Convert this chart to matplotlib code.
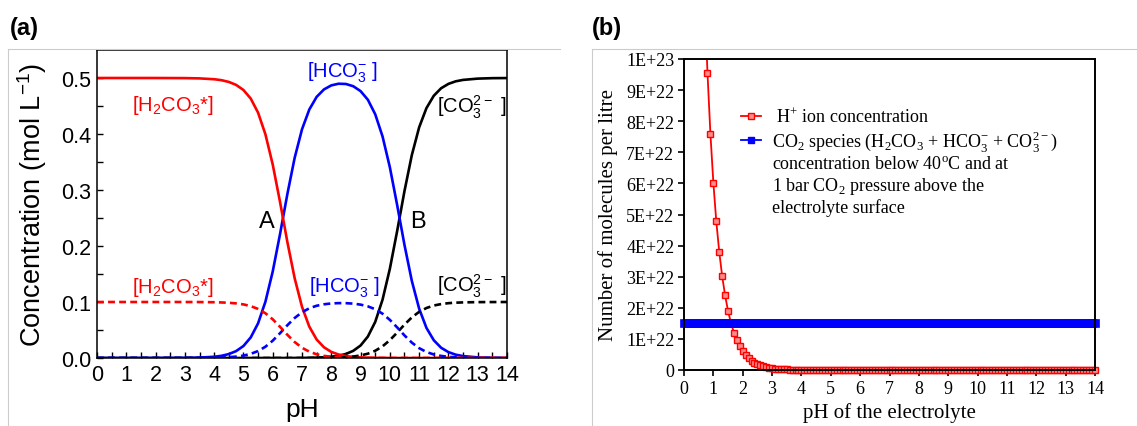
import numpy as np
import matplotlib
matplotlib.use("Agg")
import matplotlib.pyplot as plt
from matplotlib.lines import Line2D
from matplotlib.transforms import Bbox, TransformedBbox

# ---- panel (a): carbonate species vs pH, 0.5 M (solid) and 0.1 M (dashed)
ph = [0, 1, 2, 3, 3.5, 4, 4.25, 4.5, 4.75, 5, 5.25, 5.5, 5.75, 6, 6.25,
      6.5, 6.75, 7, 7.25, 7.5, 7.75, 8, 8.25, 8.5, 8.75, 9, 9.25, 9.5, 9.75,
      10, 10.25, 10.5, 10.75, 11, 11.25, 11.5, 11.75, 12, 12.25, 12.5, 13, 13.5, 14]

h2co3_hi = [0.5, 0.5, 0.5, 0.4998, 0.4993, 0.4978, 0.4961, 0.4930, 0.4877, 0.4786,
            0.4632, 0.4381, 0.3996, 0.3456, 0.2786, 0.2072, 0.1423, 0.0914, 0.0559,
            0.0330, 0.0191, 0.0109, 0.0062, 0.0035, 0.0019, 0.0011, 0.0006, 0.0003,
            0.0002, 0.0001, 0, 0, 0, 0, 0, 0, 0, 0, 0, 0, 0, 0, 0]
hco3_hi = [0, 0, 0, 0.0002, 0.0007, 0.0022, 0.0039, 0.0070, 0.0123, 0.0214, 0.0368,
           0.0619, 0.1004, 0.1544, 0.2213, 0.2927, 0.3576, 0.4084, 0.4438, 0.4663,
           0.4796, 0.4868, 0.4898, 0.4893, 0.4853, 0.4766, 0.4611, 0.4353, 0.3957,
           0.3406, 0.2729, 0.2017, 0.1377, 0.0881, 0.0537, 0.0317, 0.0183, 0.0105,
           0.0059, 0.0034, 0.0011, 0.0003, 0.0001]
co3_hi = [0, 0, 0, 0, 0, 0, 0, 0, 0, 0, 0, 0, 0, 0, 0, 0, 0.0001, 0.0002, 0.0004,
          0.0007, 0.0013, 0.0023, 0.0041, 0.0072, 0.0128, 0.0223, 0.0384, 0.0644,
          0.1041, 0.1593, 0.2270, 0.2983, 0.3623, 0.4119, 0.4463, 0.4683, 0.4817,
          0.4895, 0.4941, 0.4966, 0.4989, 0.4997, 0.4999]

h2co3_lo = [0.1, 0.1, 0.1, 0.1, 0.0999, 0.0996, 0.0992, 0.0986, 0.0975, 0.0957,
            0.0926, 0.0876, 0.0799, 0.0691, 0.0557, 0.0414, 0.0285, 0.0183, 0.0112,
            0.0066, 0.0038, 0.0022, 0.0012, 0.0007, 0.0004, 0.0002, 0.0001, 0.0001,
            0, 0, 0, 0, 0, 0, 0, 0, 0, 0, 0, 0, 0, 0, 0]
hco3_lo = [0, 0, 0, 0, 0.0001, 0.0004, 0.0008, 0.0014, 0.0025, 0.0043, 0.0074,
           0.0124, 0.0201, 0.0309, 0.0443, 0.0585, 0.0715, 0.0817, 0.0888, 0.0933,
           0.0959, 0.0974, 0.0980, 0.0979, 0.0971, 0.0953, 0.0922, 0.0871, 0.0791,
           0.0681, 0.0546, 0.0403, 0.0275, 0.0176, 0.0107, 0.0063, 0.0037, 0.0021,
           0.0012, 0.0007, 0.0002, 0.0001, 0]
co3_lo = [0, 0, 0, 0, 0, 0, 0, 0, 0, 0, 0, 0, 0, 0, 0, 0, 0, 0, 0.0001, 0.0001,
          0.0003, 0.0005, 0.0008, 0.0014, 0.0026, 0.0045, 0.0077, 0.0129, 0.0208,
          0.0319, 0.0454, 0.0597, 0.0725, 0.0824, 0.0893, 0.0937, 0.0963, 0.0979,
          0.0988, 0.0993, 0.0998, 0.0999, 0.1]

# ---- panel (b): molecules per litre (units of 1E+22), pH 0.0 .. 14.0 in 0.1 steps
ph_b = np.round(np.arange(0, 141) * 0.1, 1)
h_plus = [60.2, 47.8, 38.0, 30.2, 24.0, 19.0, 15.1, 12.0, 9.55, 7.59,
          6.02, 4.78, 3.80, 3.02, 2.40, 1.90, 1.51, 1.20, 0.955, 0.759,
          0.602, 0.478, 0.380, 0.302, 0.240, 0.190, 0.151, 0.120, 0.095, 0.076,
          0.060, 0.048, 0.038, 0.030, 0.024, 0.019, 0.015, 0.012, 0.0095, 0.0076,
          0.006] + [0.0] * 100
co2_species = [1.5] * 141
ytick_labels_b = ["0", "1E+22", "2E+22", "3E+22", "4E+22", "5E+22",
                  "6E+22", "7E+22", "8E+22", "9E+22", "1E+23"]

W, H = 1137, 427
fig = plt.figure(figsize=(W / 100, H / 100), dpi=100)
sans = "Liberation Sans"
serif = "Liberation Serif"

# light frames around each panel
for x0, x1 in [(8, 560), (592, 1137)]:
    fig.add_artist(Line2D([x0 / W, x1 / W], [1 - 50 / H, 1 - 50 / H], color="#cccccc", lw=0.8))
    fig.add_artist(Line2D([x0 / W, x0 / W], [1 - 50 / H, 0], color="#cccccc", lw=0.8))

fig.text(10 / W, 1 - 28 / H, "(a)", fontsize=17, fontweight="bold", family=sans, va="center")
fig.text(592 / W, 1 - 28 / H, "(b)", fontsize=17, fontweight="bold", family=sans, va="center")

# ---------------- panel (a)
ax1 = fig.add_axes([97 / W, 1 - 359 / H, 410 / W, 308 / H])
dash = (2.6, 1.6)
ax1.plot(ph, co3_hi, color="black", lw=1.9)
ax1.plot(ph, hco3_hi, color="#0000ff", lw=1.9)
ax1.plot(ph, h2co3_hi, color="#ff0000", lw=1.9)
ax1.plot(ph, co3_lo, color="black", lw=1.9, ls=(0, dash))
ax1.plot(ph, hco3_lo, color="#0000ff", lw=1.9, ls=(0, dash))
ax1.plot(ph, h2co3_lo, color="#ff0000", lw=1.9, ls=(0, dash))
ax1.set_xlim(0, 14)
ax1.set_ylim(0, 0.55)
ax1.set_xticks(range(15))
ax1.set_xticks(np.arange(0.5, 14, 1), minor=True)
ax1.set_yticks([0, 0.1, 0.2, 0.3, 0.4, 0.5])
ax1.set_yticklabels(["0.0", "0.1", "0.2", "0.3", "0.4", "0.5"])
ax1.set_yticks(np.arange(0.05, 0.55, 0.1), minor=True)
ax1.tick_params(which="both", direction="in", length=4, width=1, labelsize=15.5, pad=4)
for lab in ax1.get_xticklabels() + ax1.get_yticklabels():
    lab.set_family(sans)
for s in ax1.spines.values():
    s.set_linewidth(1.1)
ax1.set_xlabel("pH", fontsize=19, family=sans, labelpad=9)
ax1.set_ylabel(r"Concentration (mol L$^{\mathregular{-1}}$)", fontsize=19.5, family=sans, labelpad=9)

lab_kw = dict(fontsize=14.5, family=sans, ha="center", va="center")
h2co3_txt = r"[H$_{\mathregular{2}}$CO$_{\mathregular{3}}$*]"
hco3_txt = r"[HCO$_{\mathregular{3}}^{\mathregular{-}}$ ]"
co3_txt = r"[CO$_{\mathregular{3}}^{\mathregular{2-}}$ ]"
ax1.text(2.6, 0.452, h2co3_txt, color="#ff0000", **lab_kw)
ax1.text(8.4, 0.512, hco3_txt, color="#0000ff", **lab_kw)
ax1.text(12.8, 0.450, co3_txt, color="black", **lab_kw)
ax1.text(2.6, 0.127, h2co3_txt, color="#ff0000", **lab_kw)
ax1.text(8.45, 0.127, hco3_txt, color="#0000ff", **lab_kw)
ax1.text(12.8, 0.130, co3_txt, color="black", **lab_kw)
ax1.text(5.8, 0.245, "A", fontsize=17, family=sans, ha="center", va="center")
ax1.text(10.95, 0.245, "B", fontsize=17, family=sans, ha="center", va="center")

# ---------------- panel (b)
ax2 = fig.add_axes([684 / W, 1 - 371 / H, 411 / W, 311 / H])
red_line, = ax2.plot(ph_b, np.array(h_plus) * 1e22, color="#ff0000", lw=1.3, marker="s", ms=5,
                     mfc="#ff8c8c", mec="#ff0000", mew=1)
blue_line, = ax2.plot(ph_b, np.array(co2_species) * 1e22, color="#0000ff", lw=1.3, marker="s",
                      ms=6, mfc="#0000ff", mec="#0000ff", mew=0.5)
# let the markers on the baseline and at pH 14 show in full
clip = TransformedBbox(Bbox([[-0.02, -0.03], [1.02, 1.0]]), ax2.transAxes)
red_line.set_clip_box(clip)
blue_line.set_clip_box(clip)
ax2.set_xlim(0, 14)
ax2.set_ylim(0, 1e23)
ax2.set_xticks(range(15))
ax2.set_yticks(np.arange(11) * 1e22)
ax2.set_yticklabels(ytick_labels_b)
ax2.tick_params(direction="out", length=4, width=1.2, labelsize=13, pad=3)
for lab in ax2.get_xticklabels() + ax2.get_yticklabels():
    lab.set_family(serif)
for s in ax2.spines.values():
    s.set_linewidth(1.4)
ax2.set_xlabel("pH of the electrolyte", fontsize=15, family=serif, labelpad=4)
ax2.set_ylabel("Number of molecules per litre", fontsize=15, family=serif, labelpad=6)

handles = [
    Line2D([], [], color="#ff0000", lw=1.3, marker="s", ms=5, mfc="#ff8c8c", mec="#ff0000"),
    Line2D([], [], color="#0000ff", lw=1.3, marker="s", ms=5, mfc="#0000ff", mec="#0000ff"),
    Line2D([], [], alpha=0), Line2D([], [], alpha=0), Line2D([], [], alpha=0),
]
labels = [
    r" H$^{\mathregular{+}}$ ion concentration",
    r"CO$_{\mathregular{2}}$ species (H$_{\mathregular{2}}$CO$_{\mathregular{3}}$ + "
    r"HCO$_{\mathregular{3}}^{\mathregular{-}}$ + CO$_{\mathregular{3}}^{\mathregular{2-}}$)",
    r"concentration below 40$^{\mathregular{o}}$C and at",
    r"1 bar CO$_{\mathregular{2}}$ pressure above the",
    "electrolyte surface",
]
ax2.legend(handles, labels, loc="upper left", bbox_to_anchor=(741 / W, 1 - 108 / H),
           bbox_transform=fig.transFigure, frameon=False, borderpad=0, borderaxespad=0,
           handlelength=1.1, handletextpad=0.6, labelspacing=0.12,
           prop={"family": serif, "size": 13})

fig.savefig("out.png", dpi=100)
